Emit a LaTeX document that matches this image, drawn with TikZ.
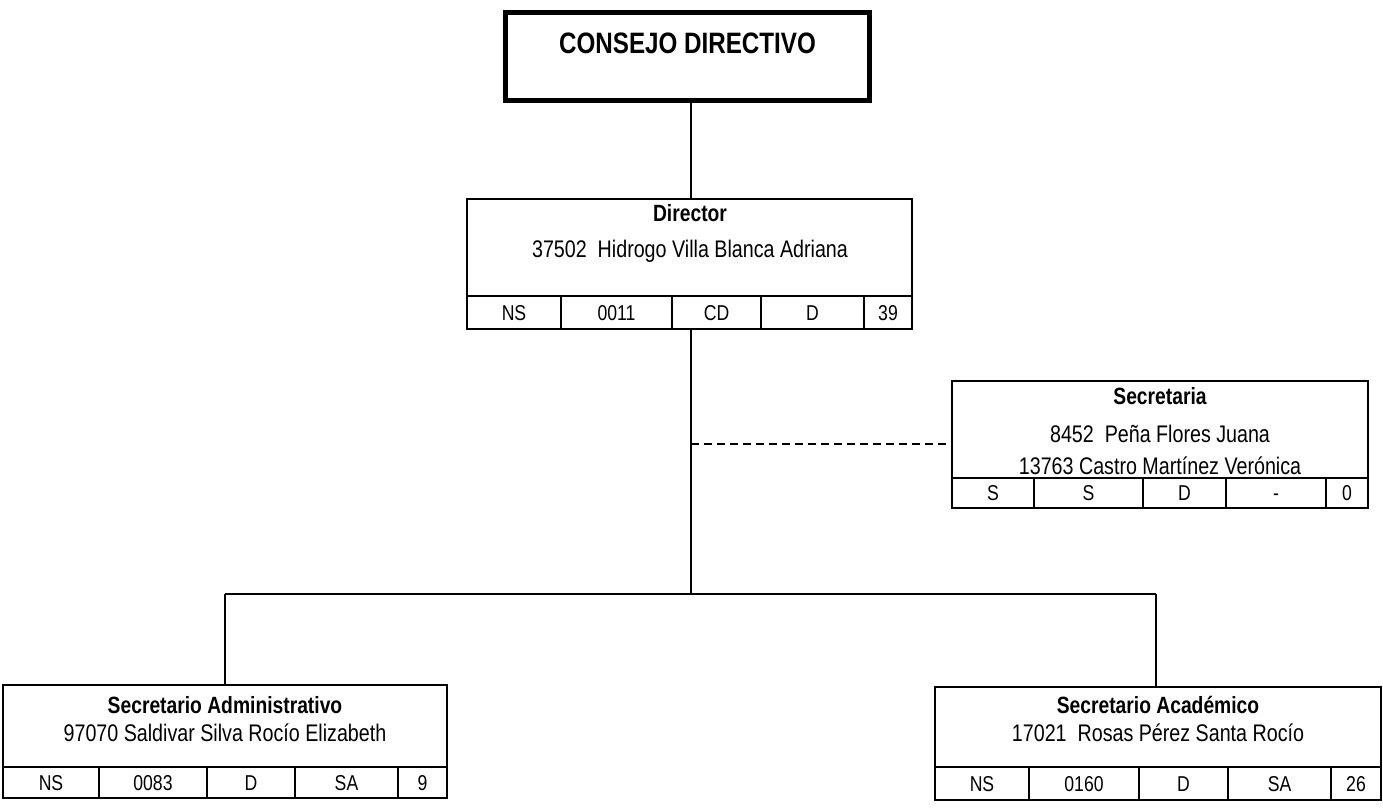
\documentclass[tikz,border=0pt]{standalone}
\usepackage{fontspec}
\setmainfont{Liberation Sans}[FakeStretch=0.82]
\begin{document}
\begin{tikzpicture}[x=1pt,y=-1pt,
  box/.style={draw, line width=2pt, inner sep=0pt},
  bigbox/.style={draw, line width=5pt, inner sep=0pt},
  cell/.style={draw, line width=2pt, inner sep=0pt, font=\fontsize{21.5}{24}\selectfont, text height=15.4pt, text depth=0pt},
  ttl/.style={anchor=base, inner sep=0pt, font=\fontsize{23.5}{28}\selectfont\bfseries},
  txt/.style={anchor=base, inner sep=0pt, font=\fontsize{24}{28}\selectfont},
  conn/.style={line width=1.5pt},
  dconn/.style={line width=1.8pt, dash pattern=on 8pt off 5pt}
]
\useasboundingbox (0,0) rectangle (1383,807);

% Consejo directivo
\node[bigbox, minimum width=364pt, minimum height=88pt] (consejo) at (687.5,56) {};
\node[anchor=base, inner sep=0pt, font=\fontsize{29.5}{34}\selectfont\bfseries] (consejoT) at (687.5,53.6) {CONSEJO DIRECTIVO};

% Director
\node[box, minimum width=445pt, minimum height=130pt] (dir) at (689.5,264) {};
\node[ttl] (dirT) at (690,221.6) {Director};
\node[txt] (dirN) at (690,257.6) {37502\ \ Hidrogo Villa Blanca Adriana};
\node[cell, minimum width=94pt, minimum height=33pt] (dir1) at (514,312.5) {NS};
\node[cell, minimum width=111pt, minimum height=33pt] (dir2) at (616.5,312.5) {0011};
\node[cell, minimum width=89pt, minimum height=33pt] (dir3) at (716.5,312.5) {CD};
\node[cell, minimum width=103pt, minimum height=33pt] (dir4) at (812.5,312.5) {D};
\node[cell, minimum width=48pt, minimum height=33pt] (dir5) at (888,312.5) {39};

% Secretaria
\node[box, minimum width=416pt, minimum height=127pt] (sec) at (1160,444.5) {};
\node[ttl] (secT) at (1160,404.6) {Secretaria};
\node[txt] (secN1) at (1160,442) {8452\ \ Peña Flores Juana};
\node[txt] (secN2) at (1160,474.6) {13763 Castro Martínez Verónica};
\node[cell, minimum width=82pt, minimum height=30pt] (sec1) at (993,493) {S};
\node[cell, minimum width=109pt, minimum height=30pt] (sec2) at (1088.5,493) {S};
\node[cell, minimum width=83pt, minimum height=30pt] (sec3) at (1184.5,493) {D};
\node[cell, minimum width=100pt, minimum height=30pt] (sec4) at (1276,493) {-};
\node[cell, minimum width=42pt, minimum height=30pt] (sec5) at (1347,493) {0};

% Secretario Administrativo
\node[box, minimum width=444pt, minimum height=113pt] (adm) at (225,741.5) {};
\node[ttl] (admT) at (225,713) {Secretario Administrativo};
\node[txt] (admN) at (225,741) {97070 Saldivar Silva Rocío Elizabeth};
\node[cell, minimum width=96pt, minimum height=31pt] (adm1) at (51,782.5) {NS};
\node[cell, minimum width=108pt, minimum height=31pt] (adm2) at (153,782.5) {0083};
\node[cell, minimum width=88pt, minimum height=31pt] (adm3) at (251,782.5) {D};
\node[cell, minimum width=103pt, minimum height=31pt] (adm4) at (346.5,782.5) {SA};
\node[cell, minimum width=49pt, minimum height=31pt] (adm5) at (422.5,782.5) {9};

% Secretario Academico
\node[box, minimum width=446pt, minimum height=113pt] (aca) at (1158,743.5) {};
\node[ttl] (acaT) at (1158,713.5) {Secretario Académico};
\node[txt] (acaN) at (1158,741.5) {17021\ \ Rosas Pérez Santa Rocío};
\node[cell, minimum width=94pt, minimum height=33pt] (aca1) at (982,783.5) {NS};
\node[cell, minimum width=110pt, minimum height=33pt] (aca2) at (1084,783.5) {0160};
\node[cell, minimum width=89pt, minimum height=33pt] (aca3) at (1183.5,783.5) {D};
\node[cell, minimum width=103pt, minimum height=33pt] (aca4) at (1279.5,783.5) {SA};
\node[cell, minimum width=50pt, minimum height=33pt] (aca5) at (1356,783.5) {26};

% connectors
\coordinate (trunk) at (691,594);
\coordinate (lb) at (225,594);
\coordinate (rb) at (1156,594);
\coordinate (dj) at (691,444);
\draw[conn] (consejo.south -| trunk) -- (dir.north -| trunk);
\draw[conn] (dir.south -| trunk) -- (trunk);
\draw[conn] (lb) -- (rb);
\draw[conn] (lb) -- (lb |- adm.north);
\draw[conn] (rb) -- (rb |- aca.north);
\draw[dconn] (dj) -- (dj -| sec.west);
\end{tikzpicture}
\end{document}
